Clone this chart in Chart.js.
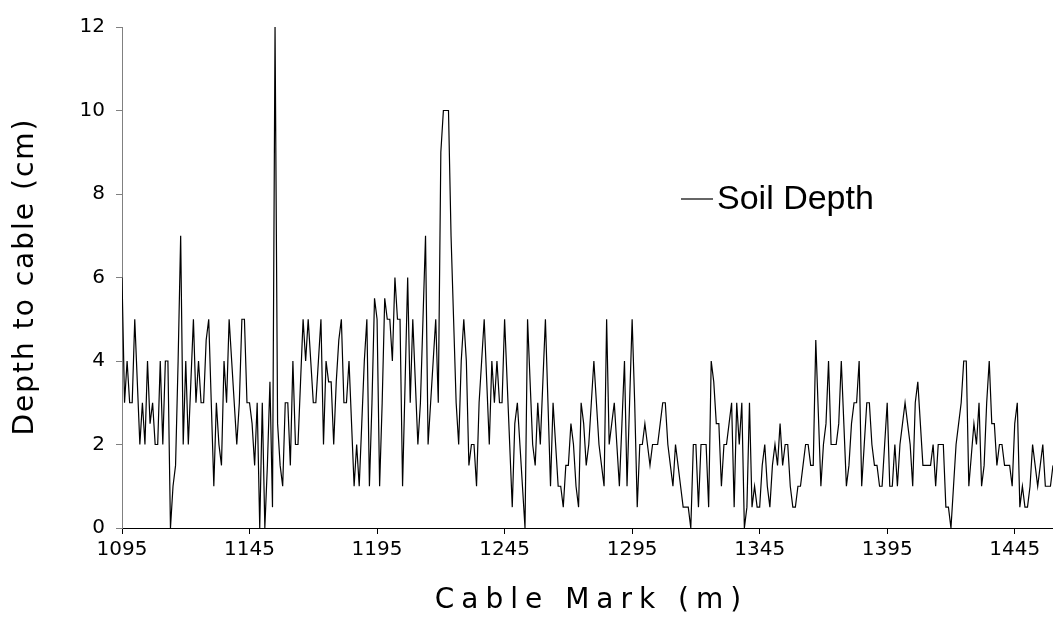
<!DOCTYPE html>
<html><head><meta charset="utf-8">
<script src="https://cdn.jsdelivr.net/npm/chart.js@4/dist/chart.umd.min.js"></script>
<style>html,body{margin:0;padding:0;background:#fff;}#wrap{width:1053px;height:640px;}</style>
</head><body><div id="wrap"><canvas id="c" width="1053" height="640"></canvas></div>
<script>
const cableMarks = [
1095,1096,1097,1098,1099,1100,1101,1102,1103,1104,
1105,1106,1107,1108,1109,1110,1111,1112,1113,1114,
1115,1116,1117,1118,1119,1120,1121,1122,1123,1124,
1125,1126,1127,1128,1129,1130,1131,1132,1133,1134,
1135,1136,1137,1138,1139,1140,1141,1142,1143,1144,
1145,1146,1147,1148,1149,1150,1151,1152,1153,1154,
1155,1156,1157,1158,1159,1160,1161,1162,1163,1164,
1165,1166,1167,1168,1169,1170,1171,1172,1173,1174,
1175,1176,1177,1178,1179,1180,1181,1182,1183,1184,
1185,1186,1187,1188,1189,1190,1191,1192,1193,1194,
1195,1196,1197,1198,1199,1200,1201,1202,1203,1204,
1205,1206,1207,1208,1209,1210,1211,1212,1213,1214,
1215,1216,1217,1218,1219,1220,1221,1222,1223,1224,
1225,1226,1227,1228,1229,1230,1231,1232,1233,1234,
1235,1236,1237,1238,1239,1240,1241,1242,1243,1244,
1245,1246,1247,1248,1249,1250,1251,1252,1253,1254,
1255,1256,1257,1258,1259,1260,1261,1262,1263,1264,
1265,1266,1267,1268,1269,1270,1271,1272,1273,1274,
1275,1276,1277,1278,1279,1280,1281,1282,1283,1284,
1285,1286,1287,1288,1289,1290,1291,1292,1293,1294,
1295,1296,1297,1298,1299,1300,1301,1302,1303,1304,
1305,1306,1307,1308,1309,1310,1311,1312,1313,1314,
1315,1316,1317,1318,1319,1320,1321,1322,1323,1324,
1325,1326,1327,1328,1329,1330,1331,1332,1333,1334,
1335,1336,1337,1338,1339,1340,1341,1342,1343,1344,
1345,1346,1347,1348,1349,1350,1351,1352,1353,1354,
1355,1356,1357,1358,1359,1360,1361,1362,1363,1364,
1365,1366,1367,1368,1369,1370,1371,1372,1373,1374,
1375,1376,1377,1378,1379,1380,1381,1382,1383,1384,
1385,1386,1387,1388,1389,1390,1391,1392,1393,1394,
1395,1396,1397,1398,1399,1400,1401,1402,1403,1404,
1405,1406,1407,1408,1409,1410,1411,1412,1413,1414,
1415,1416,1417,1418,1419,1420,1421,1422,1423,1424,
1425,1426,1427,1428,1429,1430,1431,1432,1433,1434,
1435,1436,1437,1438,1439,1440,1441,1442,1443,1444,
1445,1446,1447,1448,1449,1450,1451,1452,1453,1454,
1455,1456,1457,1458,1459,1460
];
const soilDepth = [
6,3,4,3,3,5,3.5,2,3,2,
4,2.5,3,2,2,4,2,4,4,0,
1,1.5,4,7,2,4,2,3.5,5,3,
4,3,3,4.5,5,3,1,3,2,1.5,
4,3,5,4,3,2,3,5,5,3,
3,2.5,1.5,3,0,3,0,1.5,3.5,0.5,
12,2.5,1.5,1,3,3,1.5,4,2,2,
3.5,5,4,5,4,3,3,4,5,2,
4,3.5,3.5,2,3.5,4.5,5,3,3,4,
2.5,1,2,1,2.5,4,5,1,3,5.5,
5,1,3,5.5,5,5,4,6,5,5,
1,3.5,6,3,5,3.5,2,3,5,7,
2,3,4,5,3,9,10,10,10,7,
5,3,2,4,5,4,1.5,2,2,1,
3,4,5,3.5,2,4,3,4,3,3,
5,3.5,2,0.5,2.5,3,2,1,0,5,
3.5,2,1.5,3,2,3.5,5,3,1,3,
2,1,1,0.5,1.5,1.5,2.5,2,1,0.5,
3,2.5,1.5,2,3,4,3,2,1.5,1,
5,2,2.5,3,2,1,2.5,4,1,3,
5,3,0.5,2,2,2.5,2,1.5,2,2,
2,2.5,3,3,2,1.5,1,2,1.5,1,
0.5,0.5,0.5,0,2,2,0.5,2,2,2,
0.5,4,3.5,2.5,2.5,1,2,2,2.5,3,
0.5,3,2,3,0,0.5,3,0.5,1,0.5,
0.5,1.5,2,1,0.5,1.5,2,1.5,2.5,1.5,
2,2,1,0.5,0.5,1,1,1.5,2,2,
1.5,1.5,4.5,2.75,1,2,2.5,4,2,2,
2,2.5,4,2.5,1,1.5,2.5,3,3,4,
1,2,3,3,2,1.5,1.5,1,1,2,
3,1,1,2,1,2,2.5,3,2.5,2,
1,3,3.5,2.5,1.5,1.5,1.5,1.5,2,1,
2,2,2,0.5,0.5,0,1,2,2.5,3,
4,4,1,1.75,2.5,2,3,1,1.5,3,
4,2.5,2.5,1.5,2,2,1.5,1.5,1.5,1,
2.5,3,0.5,1,0.5,0.5,1,2,1.5,1,
1.5,2,1,1,1,1.5
];
const xTickLabels = [1095,1145,1195,1245,1295,1345,1395,1445];
const yTickLabels = [0,2,4,6,8,10,12];
const seriesName = 'Soil Depth';
const xTitle = 'Cable Mark (m)';
const yTitle = 'Depth to cable (cm)';

const points = cableMarks.map((m, i) => ({x: m, y: soilDepth[i]}));

const textPlugin = {
  id: 'textExtras',
  afterDraw(chart) {
    const {ctx, chartArea} = chart;
    ctx.save();
    ctx.fillStyle = '#000';
    // legend inside the plot
    const x0 = chartArea.left + 559, y0 = chartArea.top + 172;
    ctx.strokeStyle = '#000';
    ctx.lineWidth = 1.2;
    ctx.beginPath();
    ctx.moveTo(x0, y0);
    ctx.lineTo(x0 + 32, y0);
    ctx.stroke();
    ctx.font = '34px "Liberation Sans", Arial, sans-serif';
    ctx.textBaseline = 'middle';
    ctx.textAlign = 'left';
    ctx.fillText(seriesName, x0 + 36, y0 + 1);
    // axis titles
    ctx.textAlign = 'center';
    ctx.font = '28px "DejaVu Sans", Verdana, sans-serif';
    if ('letterSpacing' in ctx) ctx.letterSpacing = '7px';
    ctx.fillText(xTitle, (chartArea.left + chartArea.right) / 2 + 4, 601);
    ctx.font = '28px "DejaVu Sans", Verdana, sans-serif';
    if ('letterSpacing' in ctx) ctx.letterSpacing = '2px';
    ctx.translate(26, (chartArea.top + chartArea.bottom) / 2);
    ctx.rotate(-Math.PI / 2);
    ctx.fillText(yTitle, 1, 0);
    ctx.restore();
  }
};

const tickFont = {family: '"DejaVu Sans", Verdana, sans-serif', size: 20};

new Chart(document.getElementById('c'), {
  type: 'line',
  data: {
    datasets: [{
      label: seriesName,
      data: points,
      borderColor: '#000',
      borderWidth: 1.2,
      pointRadius: 0,
      tension: 0,
      fill: false
    }]
  },
  options: {
    responsive: false,
    devicePixelRatio: 1,
    animation: false,
    layout: {padding: {left: 0, right: 0, top: 27, bottom: 0}},
    plugins: {legend: {display: false}, tooltip: {enabled: false}},
    scales: {
      x: {
        type: 'linear',
        min: cableMarks[0],
        max: cableMarks[cableMarks.length - 1],
        afterBuildTicks: (axis) => { axis.ticks = xTickLabels.map(v => ({value: v})); },
        afterFit: (scale) => { scale.height = 112; },
        ticks: {font: tickFont, color: '#000', padding: 4, maxRotation: 0, autoSkip: false,
          callback: (v) => String(v)},
        grid: {display: true, drawOnChartArea: false, drawTicks: true, tickLength: 6, color: '#000'},
        border: {display: true, color: '#000', width: 1},
        title: {display: false}
      },
      y: {
        type: 'linear',
        min: 0,
        max: 12,
        afterBuildTicks: (axis) => { axis.ticks = yTickLabels.map(v => ({value: v})); },
        afterFit: (scale) => { scale.width = 122; },
        ticks: {font: tickFont, color: '#000', padding: 11},
        grid: {display: true, drawOnChartArea: false, drawTicks: true, tickLength: 6, color: '#808080'},
        border: {display: true, color: '#808080', width: 1},
        title: {display: false}
      }
    }
  },
  plugins: [textPlugin]
});
</script>
</body></html>
